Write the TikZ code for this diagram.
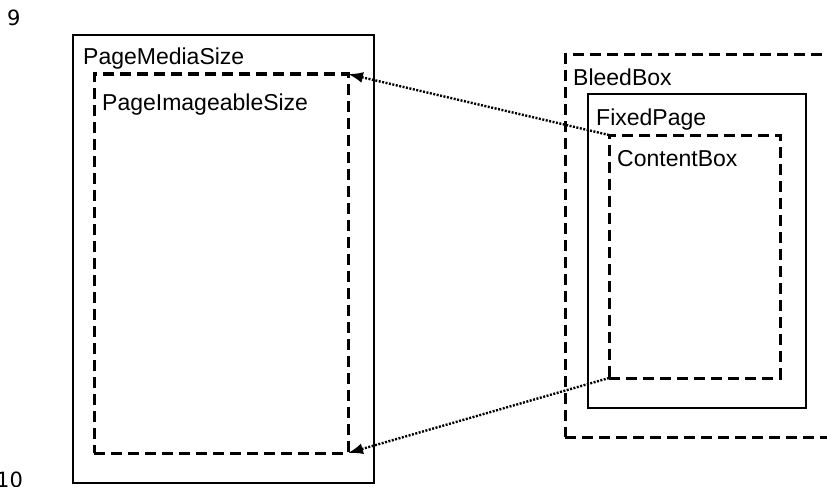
\documentclass[tikz,border=0pt]{standalone}
\usepackage{fontspec}
\setmainfont{Liberation Sans}
\newfontfamily\numfont{DejaVu Sans}
\usetikzlibrary{arrows.meta}
\tikzset{
  box/.style={draw,line width=1.1pt,inner sep=0pt,outer sep=0pt,anchor=north west},
  dashbox/.style={box,line width=3pt,dash pattern=on 11pt off 6pt},
  lbl/.style={anchor=base west,inner sep=0pt,font=\fontsize{23}{26}\selectfont},
  num/.style={anchor=base west,inner sep=0pt,font=\numfont\fontsize{21}{24}\selectfont},
  link/.style={-{Latex[length=15pt,width=11pt]},line width=2.4pt,dash pattern=on 2pt off 1.5pt}
}
\begin{document}
\begin{tikzpicture}[x=1pt,y=-1pt]
  \useasboundingbox (0,0) rectangle (827,487);
  % page numbers
  \node[num] (p9) at (7,26) {9};
  \node[num] (p10) at (-4,487) {10};
  % left side: the printed sheet
  \node[box,minimum width=301pt,minimum height=448pt] (media) at (73,35) {};
  \node[dashbox,minimum width=254pt,minimum height=379pt] (imageable) at (94,74) {};
  \node[lbl] (medialbl) at (83,65) {PageMediaSize};
  \node[lbl] (imageablelbl) at (102,110) {PageImageableSize};
  % right side: the fixed page
  \node[dashbox,minimum width=320pt,minimum height=382pt] (bleed) at (565,55) {};
  \node[box,minimum width=218pt,minimum height=314pt] (fixed) at (588,94) {};
  \node[dashbox,minimum width=171pt,minimum height=243pt] (content) at (609,135) {};
  \node[lbl] (bleedlbl) at (573,85) {BleedBox};
  \node[lbl] (fixedlbl) at (596,125) {FixedPage};
  \node[lbl] (contentlbl) at (617,166) {ContentBox};
  % mapping
  \draw[link] (content.north west) -- (imageable.north east);
  \draw[link] (content.south west) -- (imageable.south east);
\end{tikzpicture}
\end{document}
